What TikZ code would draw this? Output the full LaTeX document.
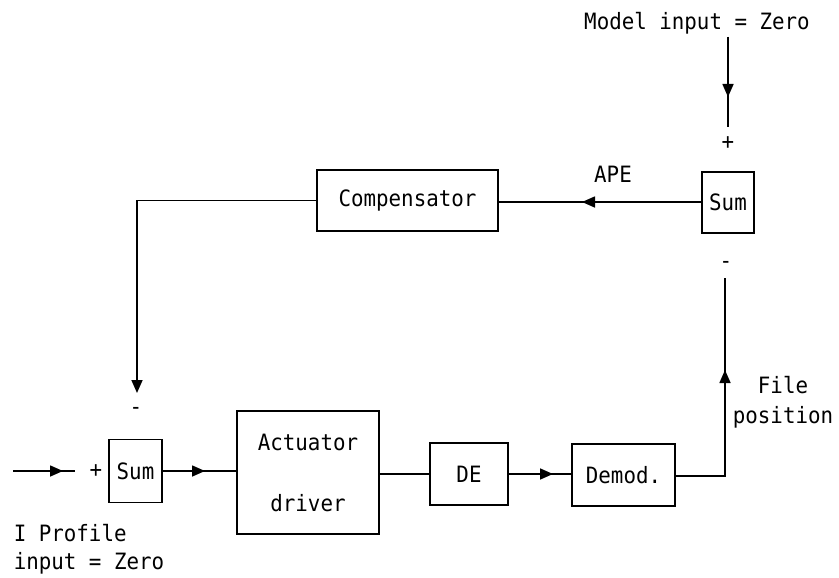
\documentclass[tikz,border=0pt]{standalone}
\usepackage{fontspec}
\setmonofont{DejaVu Sans Mono}[FakeStretch=0.925]
\usetikzlibrary{arrows.meta}
\begin{document}
\begin{tikzpicture}[x=1pt,y=-1pt, line width=1.6pt,
  every node/.style={font=\fontsize{22.5}{26}\selectfont\ttfamily, inner sep=0pt},
  blk/.style={draw, rectangle, line width=1.6pt},
  tip/.style={-{Triangle[length=13pt,width=11pt]}}]
\useasboundingbox (0,0) rectangle (839,578);
% blocks
\node[blk, minimum width=52pt, minimum height=61pt] (sumT) at (728,202.5) {Sum};
\node[blk, minimum width=181pt, minimum height=61pt] (comp) at (407.5,200.5) {Compensator};
\node[blk, minimum width=53pt, minimum height=63pt] (sumB) at (135.5,471) {Sum};
\node[blk, minimum width=142pt, minimum height=123pt, align=center] (act) at (308,472.5) {Actuator\\[35pt]driver};
\node[blk, minimum width=78pt, minimum height=62pt] (de) at (469,474) {DE};
\node[blk, minimum width=103pt, minimum height=62pt] (demod) at (623.5,475) {Demod.};
% texts
\node (model) at (697,23) {Model input = Zero};
\node (plusT) at (728,143) {+};
\node (ape) at (613,174) {APE};
\node (minT) at (726,265) {-};
\node (minB) at (136,411) {-};
\node (plusB) at (96,471) {+};
\node[align=center] (file) at (783,402) {File\\[4pt]position};
\node[anchor=west] (prof1) at (13,533) {I Profile};
\node[anchor=west] (prof2) at (13,563) {input = Zero};
% coordinates
\coordinate (mtop) at (728,37);
\coordinate (mtip) at (728,97);
\coordinate (mbot) at (728,127);
\coordinate (apetip) at (582,202);
\coordinate (cbend) at (137,200.5);
\coordinate (ctip) at (137,393);
\coordinate (inL) at (13,471);
\coordinate (intip) at (63,471);
\coordinate (inR) at (75,471);
\coordinate (stip) at (205,471);
\coordinate (detip) at (553,474);
\coordinate (fbend) at (725,476);
\coordinate (ftip) at (725,370);
\coordinate (ftop) at (725,278);
% connectors
\draw (mtop) -- (mbot);
\draw[tip] (mtop) -- (mtip);
\draw (sumT.west |- 0,202) -- (comp.east |- 0,202);
\draw[tip] (sumT.west |- 0,202) -- (apetip);
\draw[tip] (comp.west) -- (cbend) -- (ctip);
\draw (inL) -- (inR);
\draw[tip] (inL) -- (intip);
\draw (sumB.east) -- (act.west |- sumB.east);
\draw[tip] (sumB.east) -- (stip);
\draw (act.east |- 0,474) -- (de.west);
\draw (de.east) -- (demod.west |- de.east);
\draw[tip] (de.east) -- (detip);
\draw (demod.east |- 0,476) -- (fbend) -- (ftop);
\draw[tip] (fbend) -- (ftip);
\end{tikzpicture}
\end{document}
